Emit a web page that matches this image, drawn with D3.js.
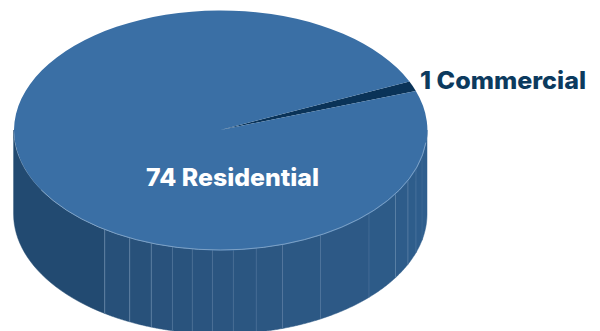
<!DOCTYPE html>
<html>
<head>
<meta charset="utf-8">
<script src="https://cdn.jsdelivr.net/npm/d3@7/dist/d3.min.js"></script>
<style>
html,body{margin:0;padding:0;background:#fff;overflow:hidden}
svg{display:block}
text{font-family:Inter,"Open Sans",sans-serif;font-weight:800}
</style>
</head>
<body>
<div id="chart"></div>
<script>
// Property counts by type
const categories = ["Commercial", "Residential"];
const counts = [1, 74];
const sliceColors = ["#0a3358", "#3a6fa5"];
const labelColors = ["#0c3a5e", "#ffffff"];

// Side-wall facet boundaries, degrees along the front rim (0 = right edge, 180 = left edge)
const wallSeams = [0, 12.6, 18.8, 24.8, 32, 44, 61, 72.5, 80, 86.4, 92.2, 97.8, 103.4, 109.5, 116, 124, 180];
const seamOpacity = [0.12, 0.22, 0.3, 0.32, 0.2, 0.2, 0.25, 0.15, 0.15, 0.2, 0.2, 0.22, 0.35, 0.4, 0.45];

const width = 600, height = 331;
const cx = 220.3, cy = 130, rx = 206.7, ry = 120, depth = 84;
const startDeg = 66.2;

const svg = d3.select("#chart").append("svg")
  .attr("width", width).attr("height", height)
  .attr("viewBox", [0, 0, width, height]);

// Projection of the tilted disc: degree around the rim to screen position
const rimX = d3.scaleLinear().domain([-1, 1]).range([cx - rx, cx + rx]);
const rimY = d3.scaleLinear().domain([-1, 1]).range([cy - ry, cy + ry]);
const wallColor = d3.scaleLinear().domain([152, 90, 0]).range(["#224a71", "#2b5580", "#2f5f8e"]).clamp(true);

const rimPoints = (a0, a1) => d3.range(0, 25).map(i => {
  const a = (a0 + (a1 - a0) * i / 24) * Math.PI / 180;
  return [rimX(Math.cos(a)), rimY(Math.sin(a))];
});

// Side wall facets
const facets = d3.pairs(wallSeams);
svg.append("g").selectAll("path").data(facets).join("path")
  .attr("d", ([a0, a1]) => {
    const pts = rimPoints(a0, a1);
    return d3.area().x(d => d[0]).y0(d => d[1]).y1(d => d[1] + depth)(pts);
  })
  .attr("fill", ([a0, a1]) => wallColor((a0 + a1) / 2))
  .attr("stroke", ([a0, a1]) => wallColor((a0 + a1) / 2))
  .attr("stroke-width", 0.5);

// Seam highlights between facets
svg.append("g").selectAll("line").data(wallSeams.slice(1, -1)).join("line")
  .attr("x1", a => rimX(Math.cos(a * Math.PI / 180)))
  .attr("x2", a => rimX(Math.cos(a * Math.PI / 180)))
  .attr("y1", a => rimY(Math.sin(a * Math.PI / 180)))
  .attr("y2", a => rimY(Math.sin(a * Math.PI / 180)) + depth)
  .attr("stroke", "#9fbbd6")
  .attr("stroke-width", 1)
  .attr("stroke-opacity", (a, i) => seamOpacity[i]);

// Top face
const pie = d3.pie().sort(null).value(d => d)
  .startAngle(startDeg * Math.PI / 180)
  .endAngle((startDeg + 360) * Math.PI / 180);
const arc = d3.arc().innerRadius(0).outerRadius(1);
const arcs = pie(counts);

svg.append("g")
  .attr("transform", `translate(${cx},${cy}) scale(${rx},${ry})`)
  .selectAll("path").data(arcs).join("path")
  .attr("d", arc)
  .attr("fill", (d, i) => sliceColors[i]);

// Light rim along the front of the top face
svg.append("path")
  .attr("d", d3.line()(rimPoints(6, 150)))
  .attr("fill", "none")
  .attr("stroke", "#a9c3dc")
  .attr("stroke-width", 0.8)
  .attr("stroke-opacity", 0.75);

// Labels
svg.selectAll("text.label").data(categories).join("text")
  .attr("class", "label")
  .attr("x", (d, i) => [420, 146][i])
  .attr("y", (d, i) => [89, 186][i])
  .attr("fill", (d, i) => labelColors[i])
  .attr("font-size", 24)
  .attr("textLength", (d, i) => [166, 173][i])
  .attr("lengthAdjust", "spacingAndGlyphs")
  .text((d, i) => `${counts[i]} ${d}`);
</script>
</body>
</html>
